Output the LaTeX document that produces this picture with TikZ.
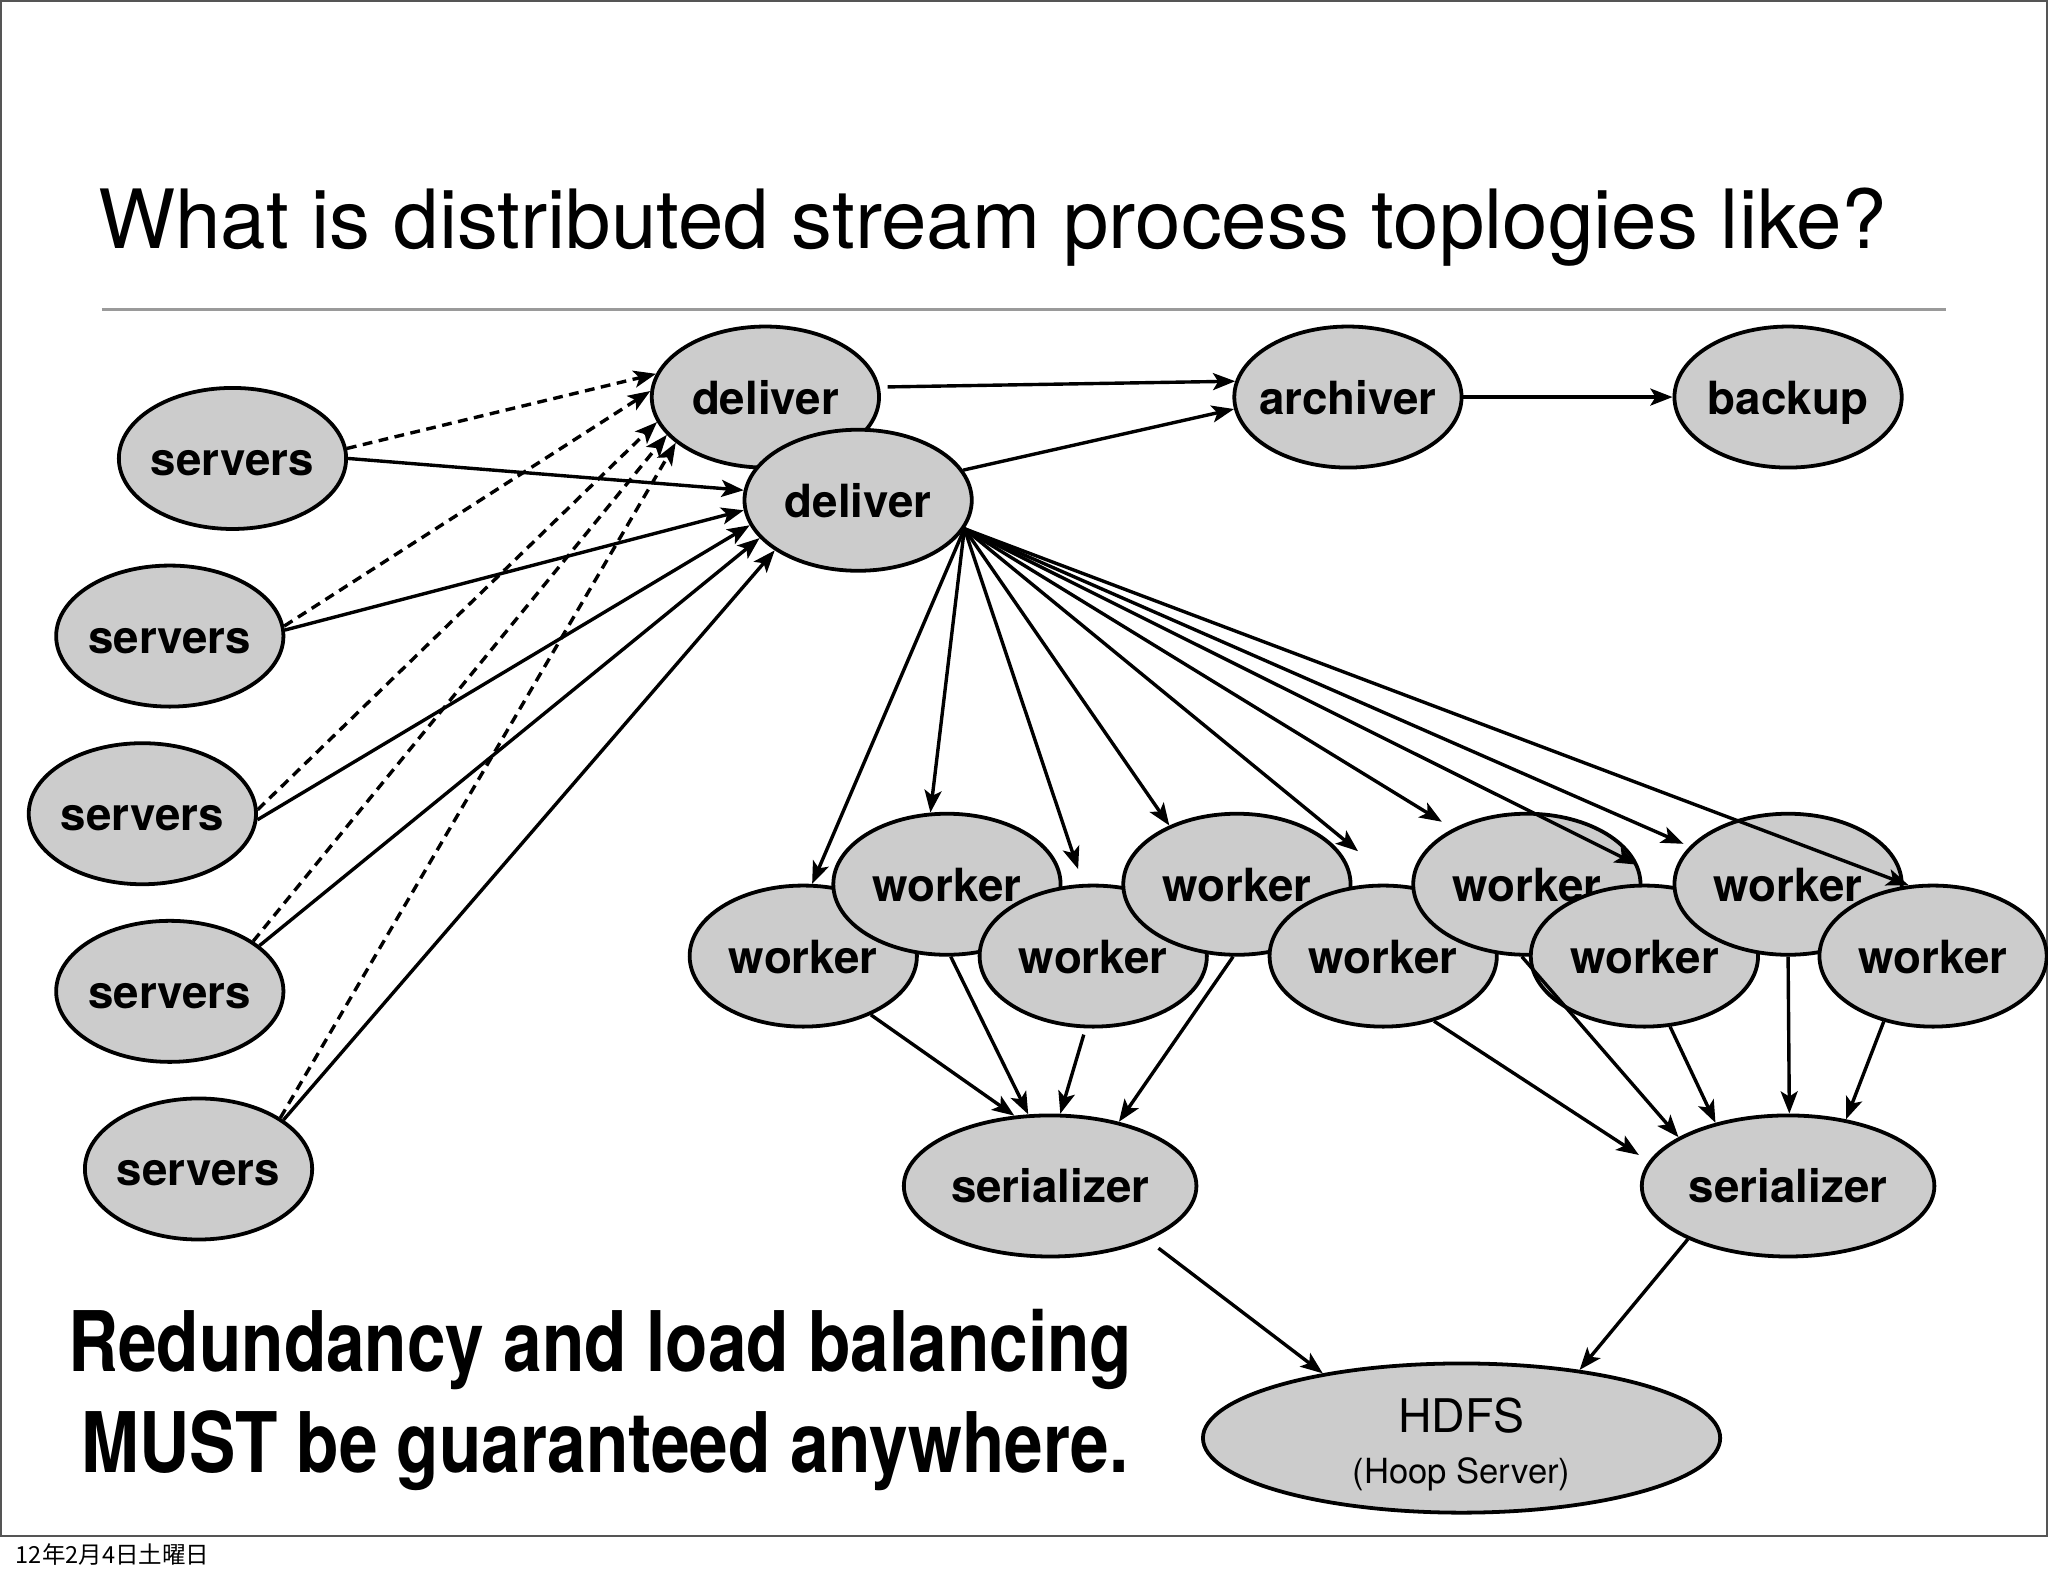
\documentclass[tikz,border=0pt]{standalone}
\usepackage{fontspec}
\setmainfont{TeX Gyre Heros}
\newfontfamily\condfont[FakeStretch=0.83]{TeX Gyre Heros}
\newfontfamily\cjkfont{Noto Sans CJK JP}
\usetikzlibrary{shapes.geometric,arrows.meta,calc}
\definecolor{nodegray}{HTML}{CCCCCC}
\definecolor{framegray}{HTML}{555555}
\definecolor{rulegray}{HTML}{9A9A9A}
\tikzset{
  proc/.style={ellipse, draw=black, line width=2.9pt, fill=nodegray,
    minimum width=174pt, minimum height=108pt, inner xsep=-12pt, inner ysep=0pt,
    text height=26pt, text depth=0pt,
    font=\bfseries\fontsize{35}{40}\selectfont},
  arr/.style={line width=2.6pt, -{Stealth[length=17pt,width=13pt,inset=4pt]}},
  darr/.style={arr, dash pattern=on 7.5pt off 5pt}
}
\begin{document}
\begin{tikzpicture}[x=1pt,y=1pt]
\useasboundingbox (0,0) rectangle (1568,-1206.6);
\fill[white] (0,0) rectangle (1568,-1206.6);
\draw[framegray, line width=1.5pt] (0.75,-1176) -- (0.75,-0.75) -- (1567.25,-0.75) -- (1567.25,-1176);
\draw[framegray, line width=2pt] (0,-1176) -- (1568,-1176);

\node[anchor=base west, inner sep=0pt, font=\fontsize{62.6}{70}\selectfont] (title) at (75,-190)
  {What is distributed stream process toplogies like?};
\draw[rulegray, line width=2pt] (78,-237) -- (1490,-237);

% nodes
\node[proc] (d1) at (586,-304) {deliver};
\node[proc] (d2) at (657,-383) {deliver};
\node[proc] (arch) at (1032,-304) {archiver};
\node[proc] (back) at (1369,-304) {backup};
\node[proc] (s1) at (178,-351) {servers};
\node[proc] (s2) at (130,-487) {servers};
\node[proc] (s3) at (109,-623) {servers};
\node[proc] (s4) at (130,-759) {servers};
\node[proc] (s5) at (152,-895) {servers};
\node[proc] (w0) at (615,-732) {worker};
\node[proc] (w1) at (725,-677) {worker};
\node[proc] (w2) at (837,-732) {worker};
\node[proc] (w3) at (947,-677) {worker};
\node[proc] (w4) at (1059,-732) {worker};
\node[proc] (w5) at (1169,-677) {worker};
\node[proc] (w6) at (1259,-732) {worker};
\node[proc] (w7) at (1369,-677) {worker};
\node[proc] (w8) at (1480,-732) {worker};
\node[proc, minimum width=224pt] (ser1) at (804,-908) {serializer};
\node[proc, minimum width=224pt] (ser2) at (1369,-908) {serializer};
\node[proc, minimum width=396pt, minimum height=109pt, text height=, text depth=,
  font=\fontsize{35.5}{37}\selectfont, align=center] (hdfs) at (1119,-1101)
  {\rule{0pt}{36pt}HDFS\\[2pt]{\fontsize{26.5}{37}\selectfont (Hoop Server)}};

% servers -> deliver (dashed to first, solid to second)
\draw[darr] (s1.5) -- (d1.168);
\draw[darr] (s2.5) -- (d1.177);
\draw[darr] (s3.2) -- (d1.-167);
\draw[darr] (s4.31) -- (d1.-159);
\draw[darr] (s5.32) -- (d1.-153);
\draw[arr] (s1.0) -- (d2.175);
\draw[arr] (s2.3) -- (d2.-175);
\draw[arr] (s3.-3) -- (d2.-167);
\draw[arr] (s4.27) -- (d2.-159);
\draw[arr] (s5.30) -- (d2.-149);

% deliver -> archiver -> backup
\draw[arr, shorten <=6pt] (d1.5) -- (arch.172);
\draw[arr] (d2.16) -- (arch.-174);
\draw[arr] (arch.0) -- (back.180);

% deliver -> workers
\draw[arr] (d2.-15) -- (w0.83);
\draw[arr] (d2.-15) -- (w1.103);
\draw[arr, shorten >=12pt] (d2.-15) -- (w2.98);
\draw[arr] (d2.-15) -- (w3.139);
\draw[arr, shorten >=40pt] (d2.-15) -- (w4.78);
\draw[arr, shorten >=10pt] (d2.-15) -- (w5.143);
\draw[arr, shorten >=40pt] (d2.-15) -- (w6.60);
\draw[arr, shorten >=5pt] (d2.-15) -- (w7.159);
\draw[arr] (d2.-15) -- (w8.109);

% workers -> serializers
\draw[arr] (w0.-41) -- (ser1.117);
\draw[arr] (w1.-87) -- (ser1.107);
\draw[arr, shorten <=5pt] (w2.-96) -- (ser1.82);
\draw[arr] (w3.-93) -- (ser1.43);
\draw[arr, shorten >=9pt] (w4.-52) -- (ser2.170);
\draw[arr] (w5.-94) -- (ser2.156);
\draw[arr] (w6.-70) -- (ser2.139);
\draw[arr] (w7.-90) -- (ser2.89);
\draw[arr] (w8.-127) -- (ser2.49);

% serializers -> HDFS
\draw[arr, shorten <=10pt] (ser1.-29) -- (hdfs.155);
\draw[arr] (ser2.-152) -- (hdfs.30);

% message
\node[anchor=base west, inner sep=0pt, font=\condfont\bfseries\fontsize{64}{70}\selectfont] (msg1) at (52,-1050)
  {Redundancy and load balancing};
\node[anchor=base west, inner sep=0pt, font=\condfont\bfseries\fontsize{64}{70}\selectfont] (msg2) at (62,-1127)
  {MUST be guaranteed anywhere.};

% footer
\node[anchor=base west, inner sep=0pt, font=\cjkfont\fontsize{18}{20}\selectfont] (date) at (12,-1197)
  {12年2月4日土曜日};
\end{tikzpicture}
\end{document}
